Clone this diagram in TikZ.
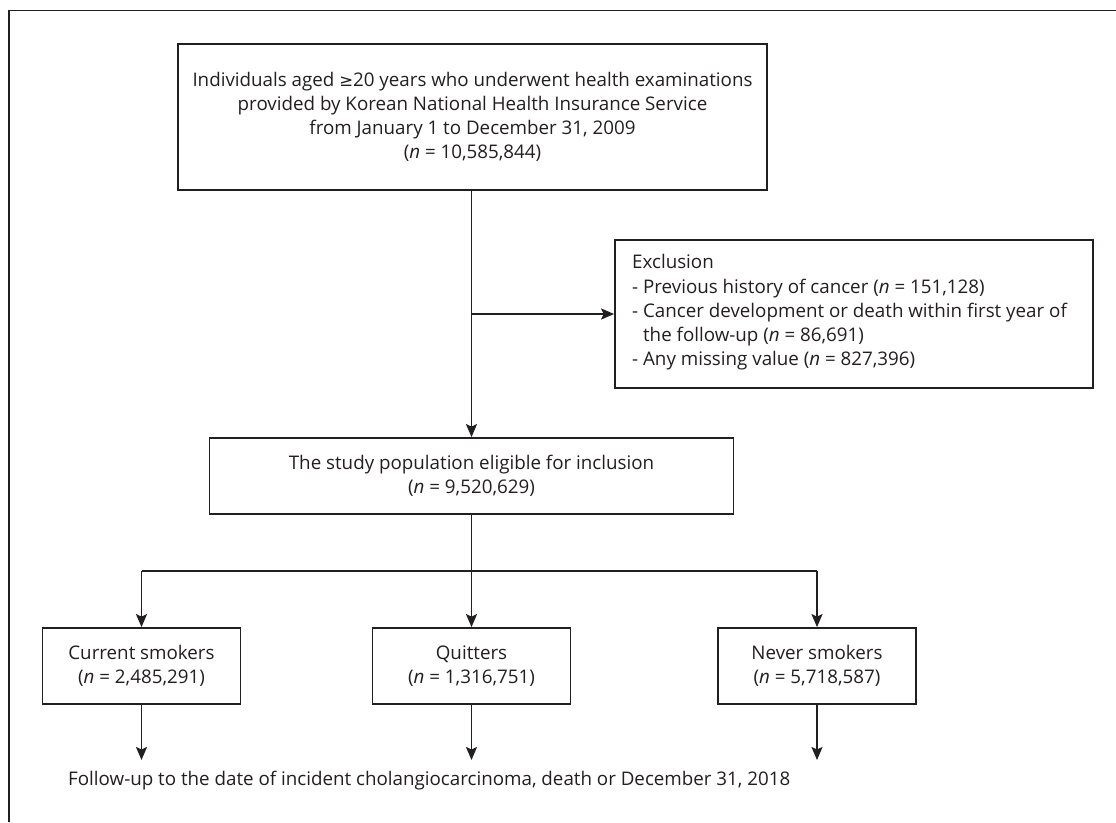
\documentclass[tikz,border=0pt]{standalone}
\usepackage{fontspec}
\setmainfont{Open Sans}
\newfontfamily\symfont{DejaVu Sans}
\usetikzlibrary{arrows.meta}
\definecolor{ink}{HTML}{231F20}
\newlength\reflen
\def\fs{18}
\def\fss{16}
\AtBeginDocument{%
  \settowidth\reflen{\fontsize{10}{12}\selectfont Individuals aged {\symfont\fontsize{8.8}{12}\selectfont ≥}20 years who underwent health examinations}%
  \pgfmathsetmacro\fs{10*560/\reflen}%
  \pgfmathsetmacro\fss{0.88*\fs}%
}
\newcommand\fsz{\fontsize{\fs}{24.2}\selectfont}
\begin{document}
\begin{tikzpicture}[x=1pt,y=-1pt,
  box/.style={draw=ink,line width=1.8pt,text=ink,align=center,inner sep=0pt,font=\fsz},
  arr/.style={draw=ink,line width=1.8pt,-{Stealth[length=13pt,width=11pt,inset=2.5pt]}},
  ln/.style={draw=ink,line width=1.8pt}]
\useasboundingbox (0,0) rectangle (1116,822);
\fill[white] (0,0) rectangle (1116,822);
\draw[ln] (9,822) -- (9,10.5) -- (1116,10.5);

\node[box,minimum width=589pt,minimum height=146pt] (top) at (472.5,117)
  {Individuals aged {\symfont\fontsize{\fss}{24.2}\selectfont ≥}20 years who underwent health examinations\\
   provided by Korean National Health Insurance Service\\
   from January 1 to December 31, 2009\\
   (\textit{n} = 10,585,844)};

\node[box,minimum width=478pt,minimum height=148pt] (excl) at (854,314) {};
\node[text=ink,font=\fsz,align=left,anchor=west,inner sep=0pt] (excltxt) at (632,312.5)
  {Exclusion\\
   - Previous history of cancer (\textit{n} = 151,128)\\
   - Cancer development or death within first year of\\
   \phantom{- }the follow-up (\textit{n} = 86,691)\\
   - Any missing value (\textit{n} = 827,396)};

\node[box,minimum width=524pt,minimum height=76pt] (study) at (471.5,476)
  {The study population eligible for inclusion\\(\textit{n} = 9,520,629)};

\node[box,minimum width=198pt,minimum height=76pt] (cur) at (141.5,666)
  {Current smokers\\(\textit{n} = 2,485,291)};
\node[box,minimum width=198pt,minimum height=76pt] (quit) at (471.5,666)
  {Quitters\\(\textit{n} = 1,316,751)};
\node[box,minimum width=198pt,minimum height=76pt] (nev) at (817,666)
  {Never smokers\\(\textit{n} = 5,718,587)};

\node[text=ink,font=\fsz,anchor=west,inner sep=0pt] (fu) at (68,781)
  {Follow-up to the date of incident cholangiocarcinoma, death or December 31, 2018};

\coordinate (br) at (471.5,314);
\coordinate (sp) at (471.5,571);
\coordinate (e1) at (141.5,760);
\coordinate (e2) at (471.5,760);
\coordinate (e3) at (817,760);

\draw[arr] (top.south -| br) -- (study.north -| br);
\draw[arr] (br) -- (excl.west);
\draw[ln] (study.south -| sp) -- (sp);
\draw[ln] (cur.north |- sp) -- (nev.north |- sp);
\draw[arr] (cur.north |- sp) -- (cur.north);
\draw[arr] (sp) -- (quit.north);
\draw[arr] (nev.north |- sp) -- (nev.north);
\draw[arr] (cur.south) -- (e1);
\draw[arr] (quit.south) -- (e2);
\draw[arr] (nev.south) -- (e3);
\end{tikzpicture}
\end{document}
